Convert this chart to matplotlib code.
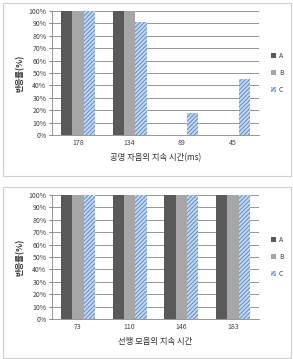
import matplotlib.pyplot as plt
from matplotlib.patches import Rectangle, Patch

plt.rcParams['font.family'] = ['Noto Sans CJK KR', 'DejaVu Sans']
plt.rcParams['hatch.linewidth'] = 0.7
plt.rcParams['hatch.color'] = '#5b8ccb'

series = ['A', 'B', 'C']

top_cats = ['178', '134', '89', '45']
top_a = [100, 100, 0, 0]
top_b = [100, 100, 0, 0]
top_c = [100, 91, 18, 45]
top_xlabel = '공명 자음의 지속 시간(ms)'

bot_cats = ['73', '110', '146', '183']
bot_a = [100, 100, 100, 100]
bot_b = [100, 100, 100, 100]
bot_c = [100, 100, 100, 100]
bot_xlabel = '선행 모음의 지속 시간'

ylabel = '반응률(%)'

W, H = 293, 359
fig = plt.figure(figsize=(W / 100, H / 100), dpi=100)

C_FACE = '#c6d7ef'
C_EDGE = '#5b8ccb'


def px(x, y, w, h):
    # pixel box (top-left origin) -> figure fraction
    return [x / W, 1 - (y + h) / H, w / W, h / H]


def draw_chart(ax, cats, a, b, c, xlabel):
    n = len(cats)
    bw = 0.22
    xs = list(range(n))
    ax.bar([x - bw for x in xs], a, bw, color='#595959', zorder=3)
    ax.bar(xs, b, bw, color='#a6a6a6', zorder=3)
    ax.bar([x + bw for x in xs], c, bw, color=C_FACE, hatch='////////',
           edgecolor=C_EDGE, linewidth=0, zorder=3)
    ax.set_xlim(-0.5, n - 0.5)
    ax.set_ylim(0, 100)
    ax.set_yticks(range(0, 101, 10))
    ax.set_yticklabels([f'{v}%' for v in range(0, 101, 10)])
    ax.set_xticks(xs)
    ax.set_xticklabels(cats)
    ax.tick_params(axis='both', labelsize=5, colors='#404040', length=0, pad=3)
    ax.tick_params(axis='y', length=2, color='#868686', pad=2)
    ax.grid(axis='y', color='#868686', linewidth=0.6, zorder=0)
    for s in ['top', 'right']:
        ax.spines[s].set_visible(False)
    for s in ['left', 'bottom']:
        ax.spines[s].set_color('#868686')
        ax.spines[s].set_linewidth(0.6)
    ax.set_xlabel(xlabel, fontsize=6, color='#303030', labelpad=4)
    ax.set_ylabel(ylabel, fontsize=6, fontweight='bold', color='#303030', labelpad=3)
    handles = [Patch(facecolor='#595959'), Patch(facecolor='#a6a6a6'),
               Patch(facecolor=C_FACE, hatch='////////', edgecolor=C_EDGE, linewidth=0)]
    ax.legend(handles, series, loc='center left', bbox_to_anchor=(1.03, 0.5),
              frameon=False, fontsize=5, handlelength=0.7, handleheight=0.7,
              handletextpad=0.4, labelspacing=1.3, labelcolor='#404040')


ax1 = fig.add_axes(px(52, 11, 207, 124))
draw_chart(ax1, top_cats, top_a, top_b, top_c, top_xlabel)

ax2 = fig.add_axes(px(52, 195, 207, 124))
draw_chart(ax2, bot_cats, bot_a, bot_b, bot_c, bot_xlabel)

# frames around each chart
for y0, y1 in [(3, 176), (187, 358)]:
    fig.patches.append(Rectangle((3 / W, 1 - y1 / H), 288 / W, (y1 - y0) / H,
                                 transform=fig.transFigure, fill=False,
                                 edgecolor='#d0d0d0', linewidth=0.8))

fig.savefig('out.png', dpi=100)
